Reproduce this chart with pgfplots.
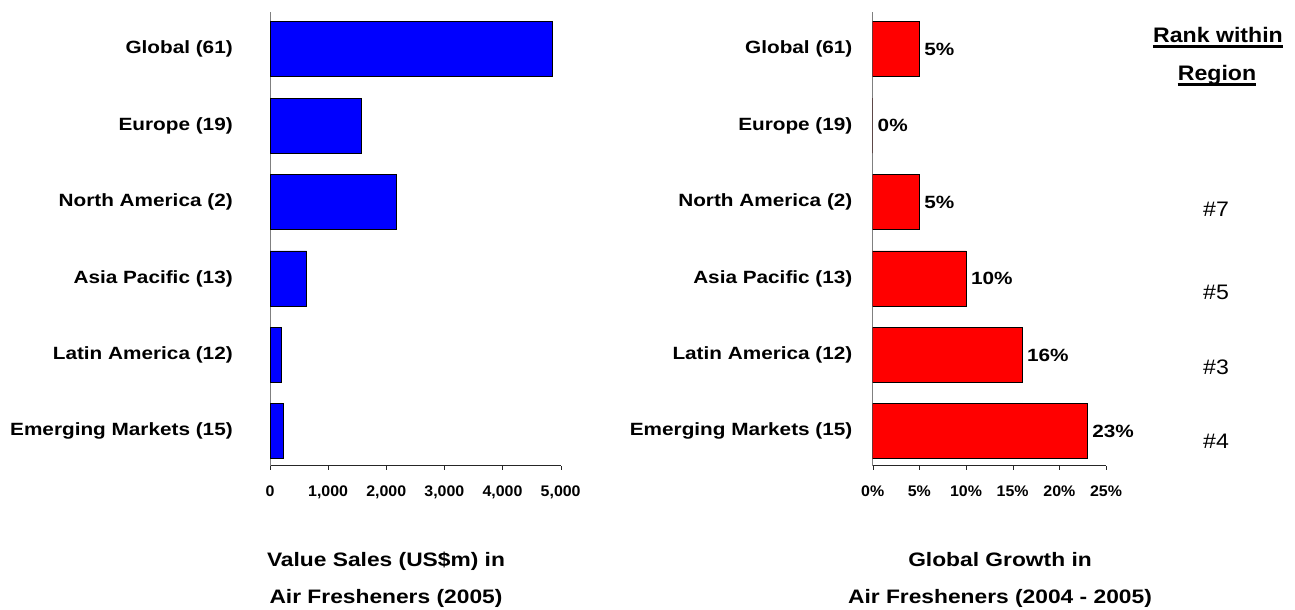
\documentclass[border=0pt]{standalone}
\usepackage{fontspec}
\setmainfont{Liberation Sans}[FakeStretch=1.17]
\newfontfamily\tickfont{Liberation Sans}[FakeStretch=1.04]
\newfontfamily\rankfont{Liberation Sans}[FakeStretch=1.1]
\newfontfamily\titlefont{Liberation Sans}[FakeStretch=1.17]
\usepackage{pgfplots}
\pgfplotsset{compat=1.18}

\pgfplotsset{
  regionbars/.style={
    scale only axis, height=340.5pt,
    xbar, bar width=41.25pt,
    ymin=-0.45, ymax=5.49,
    axis x line*=bottom, axis y line*=left,
    x axis line style={black!85, -},
    y axis line style={gray, -},
    ytick={0,...,5},
    yticklabels={Emerging Markets (15), Latin America (12), Asia Pacific (13),
                 North America (2), Europe (19), Global (61)},
    y tick style={draw=none},
    x tick style={black!85},
    tick align=outside, major tick length=3pt,
    yticklabel style={anchor=east, inner sep=0pt,
      font=\bfseries\fontsize{13.3}{14}\selectfont},
    xticklabel style={anchor=north, inner sep=0pt,
      font=\tickfont\bfseries\fontsize{11.5}{12}\selectfont},
    xticklabel shift=12pt,
    /pgf/number format/assume math mode=true,
    /pgf/number format/1000 sep={,},
  }
}

\begin{document}
\begin{tikzpicture}
\path[use as bounding box] (0pt,0pt) rectangle (971.25pt,-457.5pt);

% left panel: value sales
\begin{axis}[regionbars,
  at={(202.5pt,-349.3pt)}, anchor=south west,
  width=218pt, xmin=0, xmax=5000,
  xtick={0,1000,...,5000},
  yticklabel shift=24.75pt]
\addplot[draw=black, line width=0.6pt, fill=blue] coordinates {
  (231,0) (198,1) (631,2) (2166,3) (1576,4) (4856,5)
};
\end{axis}

% right panel: growth
\begin{axis}[regionbars,
  at={(654.5pt,-349.3pt)}, anchor=south west,
  width=175pt, xmin=0, xmax=25,
  xtick={0,5,...,25},
  xticklabel={\pgfmathprintnumber{\tick}\%},
  yticklabel shift=12pt,
  point meta=x,
  nodes near coords={\pgfmathprintnumber{\pgfplotspointmeta}\%},
  nodes near coords style={anchor=west, inner sep=0pt, xshift=3.5pt,
    font=\bfseries\fontsize{13.3}{14}\selectfont}]
\addplot[draw=black, line width=0.6pt, fill=red] coordinates {
  (23,0) (16,1) (10,2) (5,3) (0,4) (5,5)
};
\end{axis}

\begin{scope}[x=0.75pt, y=-0.75pt]
  % rank column
  \node[inner sep=0pt, anchor=base, font=\rankfont\bfseries\fontsize{15.75}{16}\selectfont]
    (r1) at (1218,43) {Rank within};
  \node[inner sep=0pt, anchor=base, font=\rankfont\bfseries\fontsize{15.75}{16}\selectfont]
    (r2) at (1217,80) {Region};
  \draw[line width=2pt] ([yshift=-2.8pt]r1.base west) -- ([yshift=-2.8pt]r1.base east);
  \draw[line width=2pt] ([yshift=-3.2pt]r2.base west) -- ([yshift=-3.2pt]r2.base east);
  \foreach \r/\yy in {7/209, 5/292, 3/367, 4/441}
    \node[font=\rankfont\fontsize{15.75}{16}\selectfont] at (1216,\yy) {\#\r};
  % panel titles
  \begin{scope}[every node/.style={anchor=base, inner sep=0pt,
      font=\titlefont\bfseries\fontsize{14.6}{15}\selectfont}]
    \node at (386,566) {Value Sales (US\$m) in};
    \node at (386,603) {Air Fresheners (2005)};
    \node at (1000,566) {Global Growth in};
    \node at (1000,603) {Air Fresheners (2004 - 2005)};
  \end{scope}
\end{scope}
\end{tikzpicture}
\end{document}
